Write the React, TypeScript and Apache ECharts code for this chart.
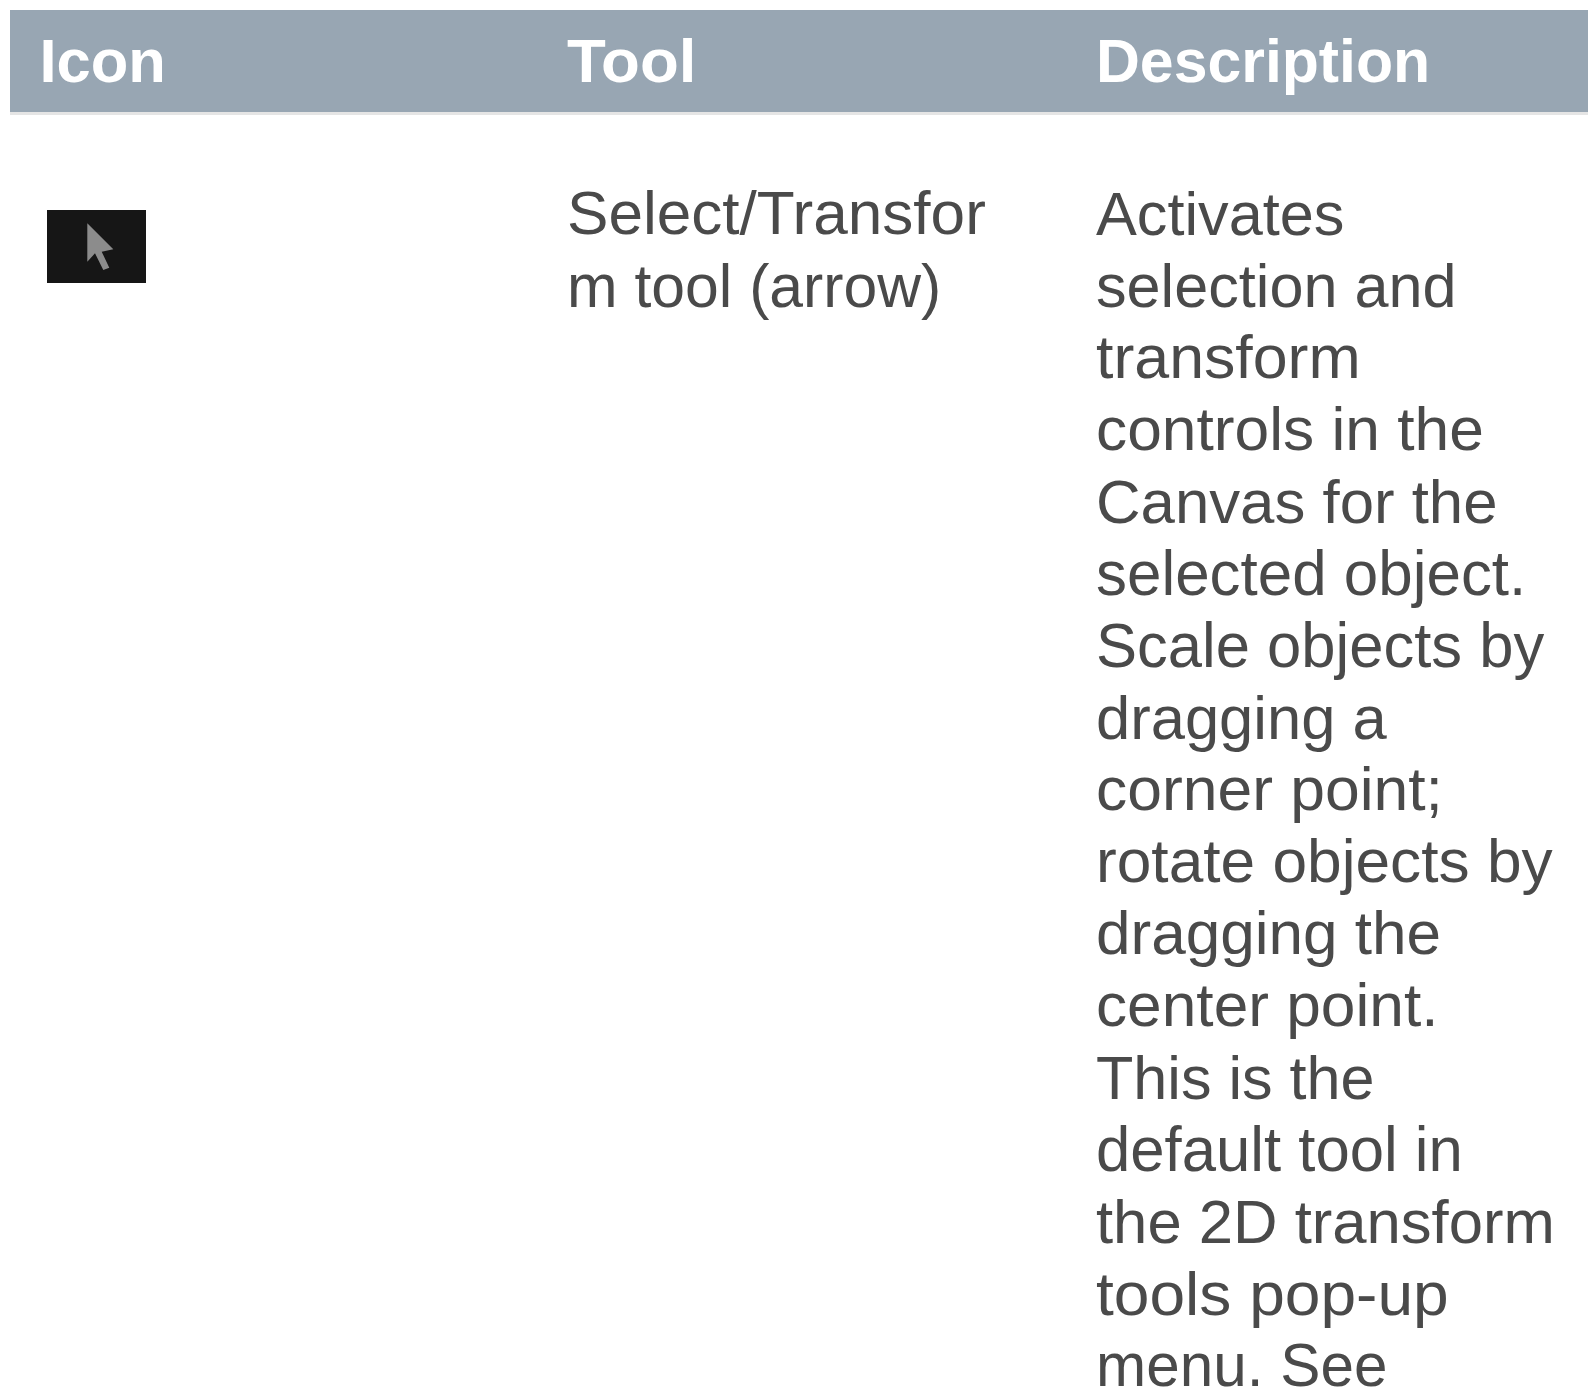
import React, { useEffect, useRef } from "react";
import * as echarts from "echarts";

const headers = ["Icon", "Tool", "Description"];
const toolLines = ["Select/Transfor", "m tool (arrow)"];
const descriptionLines = [
  "Activates",
  "selection and",
  "transform",
  "controls in the",
  "Canvas for the",
  "selected object.",
  "Scale objects by",
  "dragging a",
  "corner point;",
  "rotate objects by",
  "dragging the",
  "center point.",
  "This is the",
  "default tool in",
  "the 2D transform",
  "tools pop-up",
  "menu. See",
];
// Horizontal fit of each line to the reference's typeface metrics.
const headerFit = [0.992, 1.025, 0.98];
const toolFit = [1.002, 0.979];
const descriptionFit = [0.988, 0.987, 1.011, 1.005, 0.996, 0.999, 0.993, 0.992, 1.007, 1.004, 1.001, 1.004, 0.986, 0.995, 0.994, 1.034, 0.972];
const columnX = [39.5, 567, 1096];
const FONT = "'Liberation Sans', Arial, sans-serif";
const FONT_SIZE = 62;
const LINE = 72;
const FIRST_BASELINE = 235;
const HEADER_BASELINE = 82;
const MID_OFFSET = 22;

export default function App() {
  const ref = useRef<HTMLDivElement>(null);
  useEffect(() => {
    const chart = echarts.init(ref.current!, null, { renderer: "svg" });
    const textEl = (text: string, x: number, baseline: number, fill: string, fontWeight: string, fit: number) => ({
      type: "text",
      x,
      y: baseline - MID_OFFSET,
      scaleX: fit,
      style: { text, fill, fontFamily: FONT, fontSize: FONT_SIZE, fontWeight, verticalAlign: "middle", align: "left" },
    });
    chart.setOption({
      animation: false,
      backgroundColor: "#ffffff",
      graphic: [
        { type: "rect", shape: { x: 10, y: 10, width: 1578, height: 102 }, style: { fill: "#98a6b3" } },
        { type: "rect", shape: { x: 10, y: 112, width: 1578, height: 3 }, style: { fill: "#e5e5e5" } },
        { type: "rect", shape: { x: 47, y: 210, width: 99, height: 73 }, style: { fill: "#161616" } },
        {
          type: "polygon",
          shape: { points: [[87.3, 223.3], [113.3, 249.3], [101.7, 251.7], [109.3, 267.7], [103.3, 270], [95, 253.3], [87.3, 261.7]] },
          style: { fill: "#8c8c8c" },
        },
        ...headers.map((h, i) => textEl(h, columnX[i], HEADER_BASELINE, "#ffffff", "bold", headerFit[i])),
        ...toolLines.map((t, i) => textEl(t, columnX[1], FIRST_BASELINE + i * LINE, "#4a4a4a", "normal", toolFit[i])),
        ...descriptionLines.map((t, i) => textEl(t, columnX[2], FIRST_BASELINE + i * LINE, "#4a4a4a", "normal", descriptionFit[i])),
      ],
    });
    return () => chart.dispose();
  }, []);
  return <div ref={ref} style={{ position: "absolute", left: 0, top: 0, width: 1588, height: 1391 }} />;
}
